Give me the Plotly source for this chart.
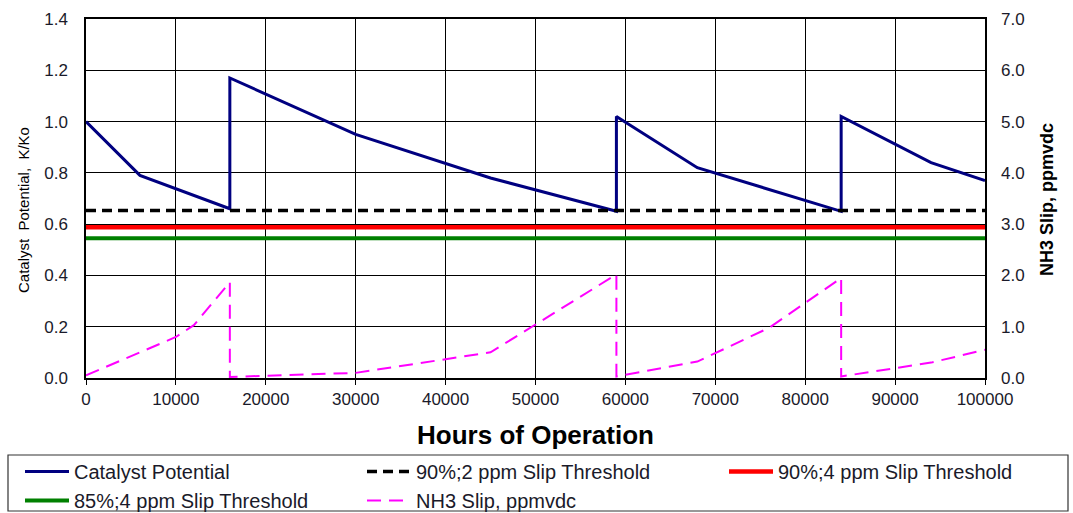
import plotly.graph_objects as go

# ---- data ----
hours_cat = [0, 6000, 16000, 16000, 30000, 45000, 59000, 59000, 68000, 84000, 84000, 94000, 100000]
catalyst = [1.0, 0.79, 0.66, 1.17, 0.95, 0.78, 0.65, 1.02, 0.82, 0.65, 1.02, 0.84, 0.77]

hours_slip = [0, 10000, 12000, 16000, 16000, 30000, 45000, 59000, 59000, 68000, 76000, 84000, 84000, 94000, 100000]
nh3_slip = [0.05, 0.8, 1.03, 1.87, 0.02, 0.1, 0.5, 2.02, 0.03, 0.32, 0.98, 1.95, 0.03, 0.3, 0.55]

thr_x = [0, 100000]
thr_90_2 = 0.653
thr_90_4 = 0.588
thr_85_4 = 0.545

x_ticks = [0, 10000, 20000, 30000, 40000, 50000, 60000, 70000, 80000, 90000, 100000]
y_ticks = [0.0, 0.2, 0.4, 0.6, 0.8, 1.0, 1.2, 1.4]
y2_ticks = [0.0, 1.0, 2.0, 3.0, 4.0, 5.0, 6.0, 7.0]

FONT = "Liberation Sans, Arial, sans-serif"
TXT = "#1a1a2a"

W, H = 1073, 513
L, R, T, B = 86, 88, 19, 135
PW, PH = W - L - R, H - T - B


def px_x(p):
    return (p - L) / PW


def px_y(p):
    return (H - B - p) / PH


fig = go.Figure()
fig.add_trace(go.Scatter(x=hours_cat, y=catalyst, mode="lines", name="Catalyst Potential",
                         line=dict(color="#000080", width=3), legend="legend"))
fig.add_trace(go.Scatter(x=thr_x, y=[thr_85_4] * 2, mode="lines", name="85%;4 ppm Slip Threshold",
                         line=dict(color="#008000", width=4), legend="legend"))
fig.add_trace(go.Scatter(x=thr_x, y=[thr_90_4] * 2, mode="lines", name="90%;4 ppm Slip Threshold",
                         line=dict(color="#ff0000", width=4.5), legend="legend3"))
fig.add_trace(go.Scatter(x=thr_x, y=[thr_90_2] * 2, mode="lines", name="90%;2 ppm Slip Threshold",
                         line=dict(color="black", width=3.5, dash="10px,6px"), legend="legend2"))
fig.add_trace(go.Scatter(x=hours_slip, y=nh3_slip, mode="lines", name="NH3 Slip, ppmvdc",
                         yaxis="y2", line=dict(color="#ff00ff", width=2, dash="14px,8px"), legend="legend2"))

leg_common = dict(orientation="v", xanchor="left", yanchor="top", y=px_y(452),
                  bgcolor="rgba(0,0,0,0)", borderwidth=0, itemwidth=44,
                  font=dict(size=20, color=TXT, family=FONT), traceorder="normal",
                  tracegroupgap=0)

fig.update_layout(
    width=W, height=H,
    margin=dict(l=L, r=R, t=T, b=B, autoexpand=False),
    paper_bgcolor="white", plot_bgcolor="white",
    font=dict(family=FONT, color=TXT, size=17),
    xaxis=dict(range=[0, 100000], tickvals=x_ticks, ticktext=[str(v) for v in x_ticks],
               showgrid=True, gridcolor="black", gridwidth=1,
               showline=True, linecolor="black", linewidth=1.5, mirror=True,
               ticks="outside", ticklen=5, tickcolor="black",
               tickfont=dict(size=17, color=TXT), zeroline=False,
               title=dict(text="<b>Hours of Operation</b>", font=dict(size=26, color="black"), standoff=18)),
    yaxis=dict(range=[0, 1.4], tickvals=y_ticks, ticktext=[f"{v:.1f}" for v in y_ticks],
               showgrid=True, gridcolor="black", gridwidth=1,
               showline=True, linecolor="black", linewidth=1.5, mirror=True,
               ticks="", tickfont=dict(size=17, color=TXT), zeroline=False,
               ticklabelstandoff=13),
    yaxis2=dict(range=[0, 7], tickvals=y2_ticks, ticktext=[f"{v:.1f}" for v in y2_ticks],
                overlaying="y", side="right", showgrid=False, zeroline=False,
                ticks="", tickfont=dict(size=17, color=TXT), ticklabelstandoff=15),
    legend=dict(x=px_x(20), **leg_common),
    legend2=dict(x=px_x(362), **leg_common),
    legend3=dict(x=px_x(724), **leg_common),
    showlegend=True,
    shapes=[dict(type="rect", xref="paper", yref="paper",
                 x0=px_x(8), x1=px_x(1068), y0=px_y(511), y1=px_y(455),
                 line=dict(color="#333333", width=1.2), fillcolor="rgba(0,0,0,0)", layer="above")],
    annotations=[
        dict(text="Catalyst  Potential,  K/Ko", textangle=-90, xref="paper", yref="paper",
             x=px_x(23), y=px_y(210), showarrow=False, xanchor="center", yanchor="middle",
             font=dict(size=15, color="black", family=FONT)),
        dict(text="<b>NH3 Slip, ppmvdc</b>", textangle=-90, xref="paper", yref="paper",
             x=px_x(1047), y=px_y(200), showarrow=False, xanchor="center", yanchor="middle",
             font=dict(size=18, color="black", family=FONT)),
    ],
)

fig.write_html("out.html")
